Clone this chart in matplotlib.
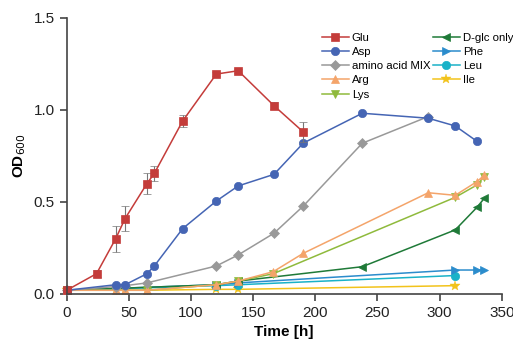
import numpy as np
import matplotlib
matplotlib.use("Agg")
import matplotlib.pyplot as plt
from matplotlib.lines import Line2D

plt.rcParams['font.family'] = ['Liberation Sans', 'DejaVu Sans']

# --- data ---
glu_t = [0, 24, 39.4, 47, 64.6, 70.5, 93.3, 120.4, 138, 166.8, 190.4]
glu_od = [0.02, 0.11, 0.30, 0.41, 0.60, 0.655, 0.94, 1.195, 1.213, 1.023, 0.88]
glu_err = [0.0, 0.02, 0.07, 0.07, 0.055, 0.04, 0.035, 0.01, 0.01, 0.02, 0.055]

asp_t = [0, 39.4, 47, 64.6, 70.5, 93.3, 120.4, 138, 166.8, 190.4, 237.8, 290.9, 312.6, 330]
asp_od = [0.02, 0.05, 0.05, 0.11, 0.152, 0.355, 0.505, 0.587, 0.65, 0.82, 0.982, 0.955, 0.913, 0.83]

mix_t = [0, 39.4, 47, 64.6, 120.4, 138, 166.8, 190.4, 237.8, 290.9]
mix_od = [0.02, 0.04, 0.045, 0.06, 0.152, 0.212, 0.33, 0.478, 0.819, 0.964]

arg_t = [0, 39.4, 47, 64.6, 120.4, 138, 166.2, 190.4, 290.9, 312.6, 330, 336]
arg_od = [0.02, 0.02, 0.02, 0.02, 0.05, 0.07, 0.121, 0.221, 0.55, 0.536, 0.61, 0.645]

lys_t = [0, 39.4, 47, 64.6, 120.4, 138, 166.2, 312.6, 330, 336]
lys_od = [0.02, 0.02, 0.02, 0.02, 0.05, 0.07, 0.11, 0.525, 0.592, 0.638]

glc_t = [0, 120.4, 138, 237.8, 312.6, 330, 336]
glc_od = [0.02, 0.05, 0.07, 0.148, 0.348, 0.47, 0.52]

phe_t = [0, 120.4, 138, 312.6, 330, 336]
phe_od = [0.02, 0.05, 0.06, 0.13, 0.13, 0.13]

leu_t = [0, 120.4, 138, 312.6]
leu_od = [0.02, 0.045, 0.05, 0.10]

ile_t = [0, 39.4, 47, 64.6, 120.4, 138, 312.6]
ile_od = [0.02, 0.02, 0.02, 0.02, 0.025, 0.025, 0.045]

labels = ['Glu', 'Asp', 'amino acid MIX', 'Arg', 'Lys', 'D-glc only', 'Phe', 'Leu', 'Ile']

fig = plt.figure(figsize=(5.13, 3.45), dpi=100)
ax = fig.add_axes([0.13, 0.148, 0.848, 0.80])

ms = 6
kw = dict(lw=1.1, ms=ms, clip_on=False, markeredgewidth=0.5)

# low series first so Glu/Asp sit on top
h_ile, = ax.plot(ile_t, ile_od, '-*', color='#f2c31b', ms=7.5, lw=1.1, clip_on=False, markeredgewidth=0.3)
h_leu, = ax.plot(leu_t, leu_od, '-o', color='#1ab2c8', **kw)
h_phe, = ax.plot(phe_t, phe_od, '->', color='#2b8ccc', **kw)
h_glc, = ax.plot(glc_t, glc_od, '-<', color='#1f7a38', **kw)
h_lys, = ax.plot(lys_t, lys_od, '-v', color='#8fba3c', **kw)
h_arg, = ax.plot(arg_t, arg_od, '-^', color='#f4a46a', **kw)
h_mix, = ax.plot(mix_t, mix_od, '-D', color='#999999', lw=1.1, ms=5, clip_on=False, markeredgewidth=0.5)
h_asp, = ax.plot(asp_t, asp_od, '-o', color='#4565b4', **kw)
ax.errorbar(glu_t, glu_od, yerr=glu_err, fmt='-s', color='#c43c3a', ecolor='#777777',
            elinewidth=0.8, capsize=3, capthick=0.8, lw=1.1, ms=ms, markeredgewidth=0.5,
            clip_on=False)
h_glu = Line2D([], [], marker='s', color='#c43c3a', lw=1.1, ms=ms, markeredgewidth=0.5)

ax.set_xlim(0, 350)
ax.set_ylim(0, 1.5)
ax.set_xticks(np.arange(0, 351, 50))
ax.set_yticks([0.0, 0.5, 1.0, 1.5])
ax.set_yticklabels(['0.0', '0.5', '1.0', '1.5'])
for s in ['top', 'right']:
    ax.spines[s].set_visible(False)
for s in ['left', 'bottom']:
    ax.spines[s].set_color('#444444')
    ax.spines[s].set_linewidth(1.2)
ax.tick_params(direction='out', length=5, width=1.2, color='#444444', labelsize=11, labelcolor='#222222')

ax.set_xlabel('Time [h]', fontsize=11, fontweight='bold')
ax.set_ylabel('OD$_{600}$', fontsize=11, fontweight='bold')

handles = [h_glu, h_asp, h_mix, h_arg, h_lys, h_glc, h_phe, h_leu, h_ile]
ax.legend(handles, labels, ncol=2, loc='upper left', bbox_to_anchor=(0.586, 0.945),
          frameon=False, fontsize=8.2, handlelength=2.4, handletextpad=0.25,
          labelspacing=0.36, columnspacing=0.2, borderaxespad=0, borderpad=0)

fig.savefig('out.png', dpi=100)
